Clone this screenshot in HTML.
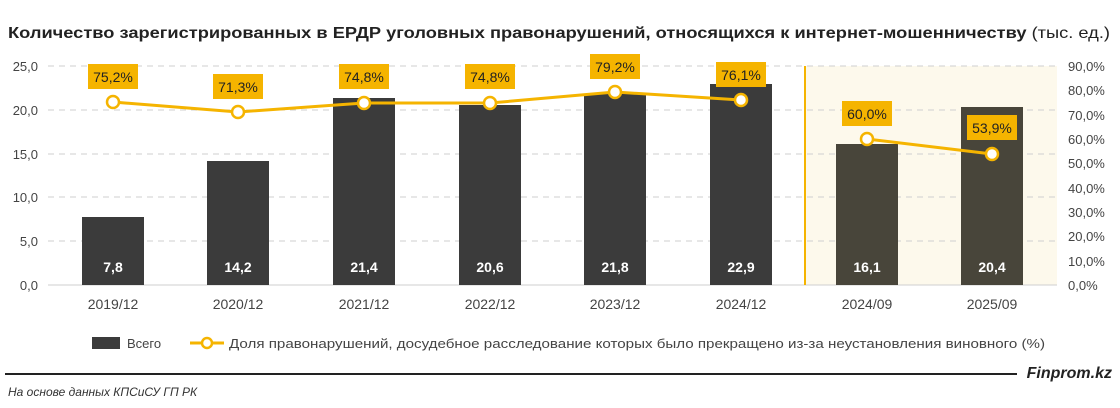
<!DOCTYPE html>
<html><head><meta charset="utf-8"><style>
body{margin:0;background:#fff;width:1120px;height:408px;overflow:hidden}
svg{display:block;font-family:"Liberation Sans",sans-serif}
</style></head><body>
<svg width="1120" height="408" viewBox="0 0 1120 408">
<text x="8" y="38" font-size="16" font-weight="bold" fill="#222" textLength="1102" lengthAdjust="spacingAndGlyphs">Количество зарегистрированных в ЕРДР уголовных правонарушений, относящихся к интернет-мошенничеству <tspan font-weight="normal">(тыс. ед.)</tspan></text>
<rect x="805" y="66" width="252" height="219" fill="#fdf9ec"/>
<g stroke="#cfcfcf" stroke-dasharray="6,5" stroke-width="1">
<line x1="48" x2="1057" y1="66" y2="66"/><line x1="48" x2="1057" y1="110" y2="110"/>
<line x1="48" x2="1057" y1="154" y2="154"/><line x1="48" x2="1057" y1="197" y2="197"/>
<line x1="48" x2="1057" y1="241" y2="241"/></g>
<line x1="48" x2="1057" y1="285" y2="285" stroke="#cfcfcf"/>
<line x1="805" x2="805" y1="66" y2="285" stroke="#f5b400" stroke-width="2"/>
<g font-size="13" fill="#444" text-anchor="end">
<text x="38" y="71">25,0</text><text x="38" y="115">20,0</text><text x="38" y="159">15,0</text>
<text x="38" y="202">10,0</text><text x="38" y="246">5,0</text><text x="38" y="290">0,0</text></g>
<g font-size="13" fill="#444">
<text x="1068" y="71">90,0%</text><text x="1068" y="95">80,0%</text><text x="1068" y="120">70,0%</text>
<text x="1068" y="144">60,0%</text><text x="1068" y="168">50,0%</text><text x="1068" y="193">40,0%</text>
<text x="1068" y="217">30,0%</text><text x="1068" y="241">20,0%</text><text x="1068" y="266">10,0%</text>
<text x="1068" y="290">0,0%</text></g>
<g fill="#3b3b3b">
<rect x="82" y="217" width="62" height="68"/><rect x="207" y="161" width="62" height="124"/>
<rect x="333" y="98" width="62" height="187"/><rect x="459" y="105" width="62" height="180"/>
<rect x="584" y="94" width="62" height="191"/><rect x="710" y="84" width="62" height="201"/>
</g>
<g fill="#48453a"><rect x="836" y="144" width="62" height="141"/><rect x="961" y="107" width="62" height="178"/></g>
<g font-size="14" font-weight="bold" fill="#fff" text-anchor="middle">
<text x="113" y="272">7,8</text><text x="238" y="272">14,2</text><text x="364" y="272">21,4</text>
<text x="490" y="272">20,6</text><text x="615" y="272">21,8</text><text x="741" y="272">22,9</text>
<text x="867" y="272">16,1</text><text x="992" y="272">20,4</text></g>
<g font-size="14" fill="#444" text-anchor="middle">
<text x="113" y="309">2019/12</text><text x="238" y="309">2020/12</text><text x="364" y="309">2021/12</text>
<text x="490" y="309">2022/12</text><text x="615" y="309">2023/12</text><text x="741" y="309">2024/12</text>
<text x="867" y="309">2024/09</text><text x="992" y="309">2025/09</text></g>
<polyline points="113,102 238,112 364,103 490,103 615,92 741,100" fill="none" stroke="#f5b400" stroke-width="3"/>
<polyline points="867,139 992,154" fill="none" stroke="#f5b400" stroke-width="3"/>
<g fill="#fff" stroke="#f5b400" stroke-width="2.5">
<circle cx="113" cy="102" r="6"/><circle cx="238" cy="112" r="6"/><circle cx="364" cy="103" r="6"/>
<circle cx="490" cy="103" r="6"/><circle cx="615" cy="92" r="6"/><circle cx="741" cy="100" r="6"/>
<circle cx="867" cy="139" r="6"/><circle cx="992" cy="154" r="6"/></g>
<g fill="#f5b400">
<rect x="88" y="64" width="50" height="25"/><rect x="213" y="74" width="50" height="25"/>
<rect x="339" y="64" width="50" height="25"/><rect x="465" y="64" width="50" height="25"/>
<rect x="590" y="54" width="50" height="25"/><rect x="716" y="62" width="50" height="25"/>
<rect x="842" y="101" width="50" height="25"/><rect x="967" y="115" width="50" height="25"/></g>
<g font-size="14" fill="#222" text-anchor="middle">
<text x="113" y="82">75,2%</text><text x="238" y="92">71,3%</text><text x="364" y="82">74,8%</text>
<text x="490" y="82">74,8%</text><text x="615" y="72">79,2%</text><text x="741" y="80">76,1%</text>
<text x="867" y="119">60,0%</text><text x="992" y="133">53,9%</text></g>
<rect x="92" y="337" width="28" height="12" fill="#3b3b3b"/>
<text x="127" y="348" font-size="13" fill="#444">Всего</text>
<line x1="190" x2="224" y1="343" y2="343" stroke="#f5b400" stroke-width="3"/>
<circle cx="207" cy="343" r="5" fill="#fff" stroke="#f5b400" stroke-width="2.5"/>
<text x="229" y="348" font-size="13" fill="#444" textLength="816" lengthAdjust="spacingAndGlyphs">Доля правонарушений, досудебное расследование которых было прекращено из-за неустановления виновного (%)</text>
<line x1="5" x2="1017" y1="374" y2="374" stroke="#222" stroke-width="2"/>
<text x="1112" y="378" font-size="16" font-weight="bold" font-style="italic" fill="#222" text-anchor="end">Finprom.kz</text>
<text x="8" y="396" font-size="12" font-style="italic" fill="#333">На основе данных КПСиСУ ГП РК</text>
</svg>
</body></html>
